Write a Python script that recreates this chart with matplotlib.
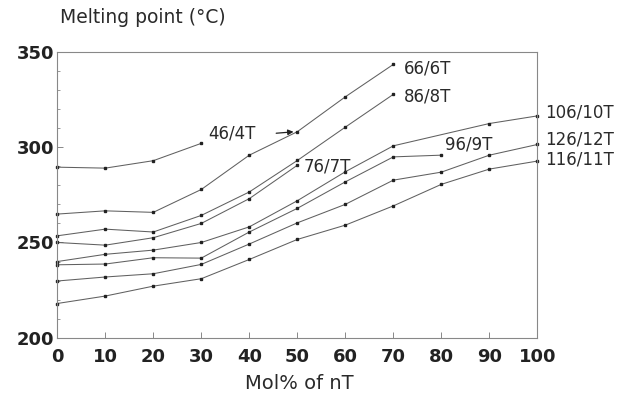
import matplotlib
matplotlib.use('Agg')
import matplotlib.pyplot as plt
from matplotlib.ticker import MultipleLocator

# melting point (deg C) vs mol% of nT
x_4t = [0, 10, 20, 30]
mp_4t = [289.5, 289.0, 292.9, 302.0]

x_6t = [0, 10, 20, 30, 40, 50, 60, 70]
mp_6t = [264.9, 266.6, 265.8, 277.8, 295.8, 308.1, 326.4, 343.4]

x_8t = [0, 10, 20, 30, 40, 50, 60, 70]
mp_8t = [253.5, 257.0, 255.5, 264.2, 276.5, 293.0, 310.5, 327.7]

x_7t = [0, 10, 20, 30, 40, 50]
mp_7t = [250.0, 248.6, 252.5, 260.0, 273.0, 290.5]

x_10t = [0, 10, 20, 30, 40, 50, 60, 70, 90, 100]
mp_10t = [240.0, 243.8, 246.0, 250.0, 258.2, 271.9, 287.1, 300.7, 312.4, 316.4]

x_9t = [0, 10, 20, 30, 40, 50, 60, 70, 80]
mp_9t = [238.3, 238.7, 242.0, 241.8, 255.5, 267.9, 281.8, 294.9, 295.8]

x_12t = [0, 10, 20, 30, 40, 50, 60, 70, 80, 90, 100]
mp_12t = [229.8, 231.9, 233.6, 238.5, 249.2, 260.3, 270.0, 282.7, 286.9, 295.8, 301.4]

x_11t = [0, 10, 20, 30, 40, 50, 60, 70, 80, 90, 100]
mp_11t = [218.0, 221.9, 227.1, 231.0, 241.1, 251.6, 259.1, 269.2, 280.5, 288.5, 292.7]

series = [
    (x_4t, mp_4t), (x_6t, mp_6t), (x_8t, mp_8t), (x_7t, mp_7t),
    (x_10t, mp_10t), (x_9t, mp_9t), (x_12t, mp_12t), (x_11t, mp_11t),
]

# curve labels: text, x, y
labels = [
    ('66/6T', 72.2, 341.3), ('86/8T', 72.2, 326.4), ('106/10T', 101.6, 318.0),
    ('126/12T', 101.6, 304.0), ('116/11T', 101.6, 293.6), ('96/9T', 80.8, 301.4),
    ('76/7T', 51.4, 289.7), ('46/4T', 31.5, 307.2),
]

plt.rcParams['font.family'] = ['DejaVu Sans']

fig = plt.figure(figsize=(6.22, 4.08), dpi=100)
ax = fig.add_axes([0.092, 0.172, 0.772, 0.701])

for xs, ys in series:
    ax.plot(xs, ys, color='#606060', lw=0.75, marker='s', ms=2.0,
            mfc='#222222', mec='#222222', clip_on=False)

for txt, lx, ly in labels:
    ax.text(lx, ly, txt, fontsize=12, va='center', ha='left', color='#2a2a2a',
            clip_on=False)

# little arrow after the 46/4T label
ax.annotate('', xy=(49.5, 308.1), xytext=(45.6, 307.3),
            arrowprops=dict(arrowstyle='-|>', color='#222222', lw=0.9,
                            shrinkA=0, shrinkB=1, mutation_scale=8))

ax.set_xlim(0, 100)
ax.set_ylim(200, 350)
ax.set_xticks(range(0, 101, 10))
ax.set_yticks([200, 250, 300, 350])
ax.yaxis.set_minor_locator(MultipleLocator(10))
ax.xaxis.set_minor_locator(MultipleLocator(10))
ax.tick_params(axis='both', which='both', direction='in', colors='#888888',
               labelcolor='#222222')
ax.tick_params(axis='both', which='major', length=4, width=0.7, labelsize=13)
ax.tick_params(axis='both', which='minor', length=2.5, width=0.6)
ax.tick_params(axis='x', pad=7)
ax.tick_params(axis='y', pad=2)
for lab in ax.get_xticklabels() + ax.get_yticklabels():
    lab.set_fontweight('bold')
for sp in ax.spines.values():
    sp.set_color('#888888')
    sp.set_linewidth(0.8)

fig.text(0.097, 0.958, 'Melting point (\u00b0C)', fontsize=13.5, va='center',
         ha='left', color='#2a2a2a')
fig.text(0.482, 0.06, 'Mol% of nT', fontsize=14, va='center', ha='center',
         color='#2a2a2a')

plt.savefig('out.png', dpi=100)
